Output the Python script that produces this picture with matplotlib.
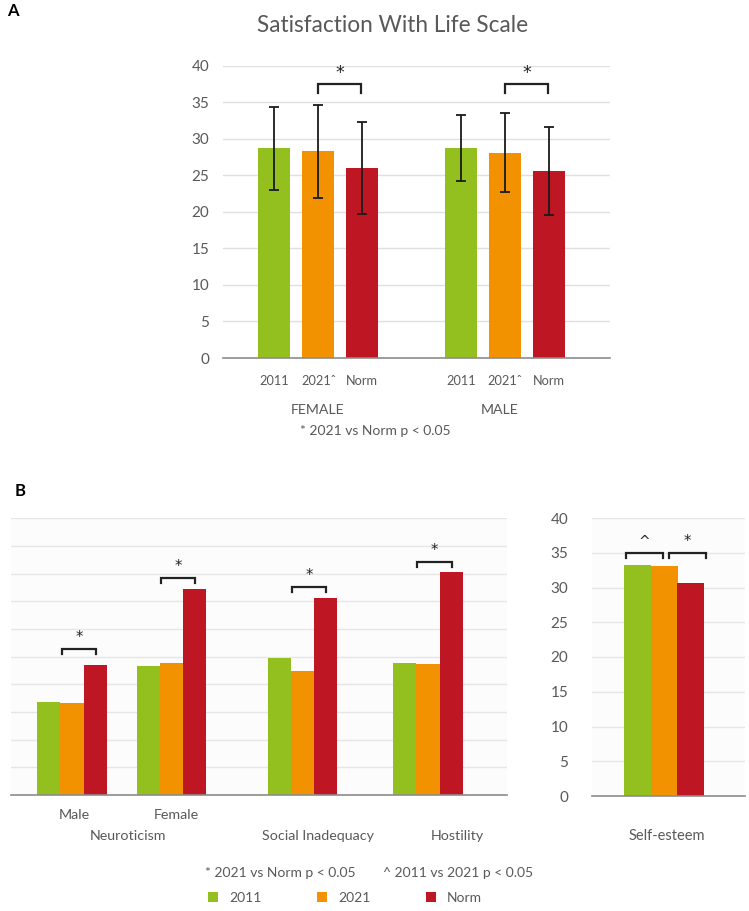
import matplotlib
matplotlib.use("Agg")
import matplotlib.pyplot as plt
from matplotlib.patches import Patch
import numpy as np

plt.rcParams['font.family'] = ['Lato', 'DejaVu Sans']

# ---------------- data ----------------
series = ["2011", "2021", "Norm"]
colors = ["#93C01F", "#F39200", "#BE1622"]

# Panel A: Satisfaction With Life Scale
swls_groups = ["FEMALE", "MALE"]
swls_ticklabels = ["2011", "2021\u02C6", "Norm"]
swls_mean = {"2011": [28.7, 28.7], "2021": [28.3, 28.1], "Norm": [26.0, 25.6]}
swls_sd = {"2011": [5.7, 4.5], "2021": [6.35, 5.4], "Norm": [6.25, 6.05]}

# Panel B left: EPQ-type scales (no axis labels in source; arbitrary units)
b_cats = ["Male", "Female", "Social Inadequacy", "Hostility"]
b_vals = {"2011": [3.35, 4.67, 4.95, 4.77],
          "2021": [3.33, 4.77, 4.49, 4.73],
          "Norm": [4.69, 7.45, 7.11, 8.05]}
b_sig_level = [5.28, 7.83, 7.52, 8.41]

# Panel B right: Self-esteem
se_vals = {"2011": 33.25, "2021": 33.1, "Norm": 30.7}

GRAY = "#595959"
STAR = ["DejaVu Sans"]
W, H = 749, 911
fig = plt.figure(figsize=(W / 100, H / 100), dpi=100)


def rect(l, t, r, b):
    return [l / W, 1 - b / H, (r - l) / W, (b - t) / H]


def ftext(x, y, s, **kw):
    kw.setdefault("color", GRAY)
    kw.setdefault("ha", "center")
    kw.setdefault("va", "center")
    fig.text(x / W, 1 - y / H, s, **kw)


def bracket(ax, x0, x1, y, leg, lw=1.6):
    ax.plot([x0, x0, x1, x1], [y - leg, y, y, y - leg], color="#222222", lw=lw,
            solid_joinstyle="miter", clip_on=False)


# ---------------- Panel A ----------------
axA = fig.add_axes(rect(223, 65.7, 610, 358))
gpos = np.arange(len(swls_groups))
off = 0.235
bw = 0.171
for i, s in enumerate(series):
    xs = gpos + (i - 1) * off
    axA.bar(xs, swls_mean[s], width=bw, color=colors[i], zorder=2)
    axA.errorbar(xs, swls_mean[s], yerr=swls_sd[s], fmt="none", ecolor="#1a1a1a",
                 elinewidth=1.3, capsize=3.5, capthick=1.3, zorder=3)
axA.set_xlim(-0.51, 1.56)
axA.set_ylim(0, 40)
axA.set_yticks(np.arange(0, 41, 5))
axA.yaxis.grid(True, color="#e0e0e0", lw=1)
axA.set_axisbelow(True)
for sp in ["top", "right", "left"]:
    axA.spines[sp].set_visible(False)
axA.spines["bottom"].set_color("#8c8c8c")
axA.spines["bottom"].set_linewidth(1.2)
axA.tick_params(axis="y", length=0, labelsize=11, labelcolor=GRAY, pad=10)
xt = np.concatenate([gpos + (i - 1) * off for i in range(3)])
axA.set_xticks(sorted(xt))
axA.set_xticklabels(swls_ticklabels * len(swls_groups))
axA.tick_params(axis="x", length=0, labelsize=9.2, labelcolor=GRAY, pad=12)
for g in gpos:
    bracket(axA, g, g + off * 0.97, 37.5, 1.2)
    axA.text(g + off * 0.5, 39.0, "*", ha="center", va="center", fontsize=12.5,
             color="#222222", family=STAR)

ftext(393, 26, "Satisfaction With Life Scale", fontsize=16.3)
ftext(318, 410, "FEMALE", fontsize=10.2)
ftext(500, 410, "MALE", fontsize=10.2)
ftext(375, 431, "* 2021 vs Norm p < 0.05", fontsize=10)
ftext(13, 11, "A", fontsize=12, fontweight="bold", color="black")
ftext(20, 491, "B", fontsize=12, fontweight="bold", color="black")

# ---------------- Panel B left ----------------
axB = fig.add_axes(rect(11, 518.3, 507, 795))
axB.set_facecolor("#fcfcfc")
bpos = np.array([0.613, 1.613, 2.93, 4.19])
bwb = 0.234
for i, s in enumerate(series):
    axB.bar(bpos + (i - 1) * bwb, b_vals[s], width=bwb, color=colors[i], zorder=2)
axB.set_xlim(0, 4.985)
axB.set_ylim(0, 10)
axB.set_yticks(np.arange(0, 11, 1))
axB.yaxis.grid(True, color="#e6e6e6", lw=1)
axB.set_axisbelow(True)
axB.set_yticklabels([])
axB.set_xticks([])
axB.tick_params(length=0)
for sp in ["top", "right", "left"]:
    axB.spines[sp].set_visible(False)
axB.spines["bottom"].set_color("#8c8c8c")
axB.spines["bottom"].set_linewidth(1.2)
for p, lev in zip(bpos, b_sig_level):
    bracket(axB, p - 0.105, p + 0.24, lev, 0.18)
    axB.text(p + 0.068, lev + 0.42, "*", ha="center", va="center", fontsize=10.5,
             color="#222222", family=STAR)

ftext(74, 815, "Male", fontsize=10.3)
ftext(176, 815, "Female", fontsize=10.3)
ftext(128, 836, "Neuroticism", fontsize=10.3)
ftext(318, 836, "Social Inadequacy", fontsize=10.3)
ftext(457, 836, "Hostility", fontsize=10.3)

# ---------------- Panel B right ----------------
axS = fig.add_axes(rect(592, 518, 745, 796))
axS.set_facecolor("#fcfcfc")
sw = 27
sx = np.array([45, 72, 98.5])
for i, s in enumerate(series):
    axS.bar(sx[i], se_vals[s], width=sw, color=colors[i], zorder=2)
axS.set_xlim(0, 153)
axS.set_ylim(0, 40)
axS.set_yticks(np.arange(0, 41, 5))
axS.yaxis.grid(True, color="#e6e6e6", lw=1)
axS.set_axisbelow(True)
axS.set_xticks([])
axS.tick_params(axis="y", length=0, labelsize=11, labelcolor=GRAY, pad=17)
for sp in ["top", "right", "left"]:
    axS.spines[sp].set_visible(False)
axS.spines["bottom"].set_color("#8c8c8c")
axS.spines["bottom"].set_linewidth(1.2)
bracket(axS, 34, 71, 34.9, 0.7)
bracket(axS, 77, 114, 34.9, 0.7)
axS.text(52.5, 36.6, "^", ha="center", va="center", fontsize=10, color="#222222",
         family=STAR)
axS.text(95.5, 36.6, "*", ha="center", va="center", fontsize=10.5, color="#222222",
         family=STAR)
ftext(667, 836, "Self-esteem", fontsize=10.5)

# ---------------- footnotes & legend ----------------
ftext(280, 873, "* 2021 vs Norm p < 0.05", fontsize=10)
ftext(458, 873, "^ 2011 vs 2021 p < 0.05", fontsize=10)
handles = [Patch(facecolor=c, edgecolor="none") for c in colors]
leg = fig.legend(handles, series, loc="center", bbox_to_anchor=(345 / W, 1 - 898 / H),
                 ncol=3, frameon=False, fontsize=10, handlelength=0.7,
                 handleheight=0.7, handletextpad=0.8, columnspacing=4.0)
for t in leg.get_texts():
    t.set_color(GRAY)

fig.savefig("out.png", dpi=100)
